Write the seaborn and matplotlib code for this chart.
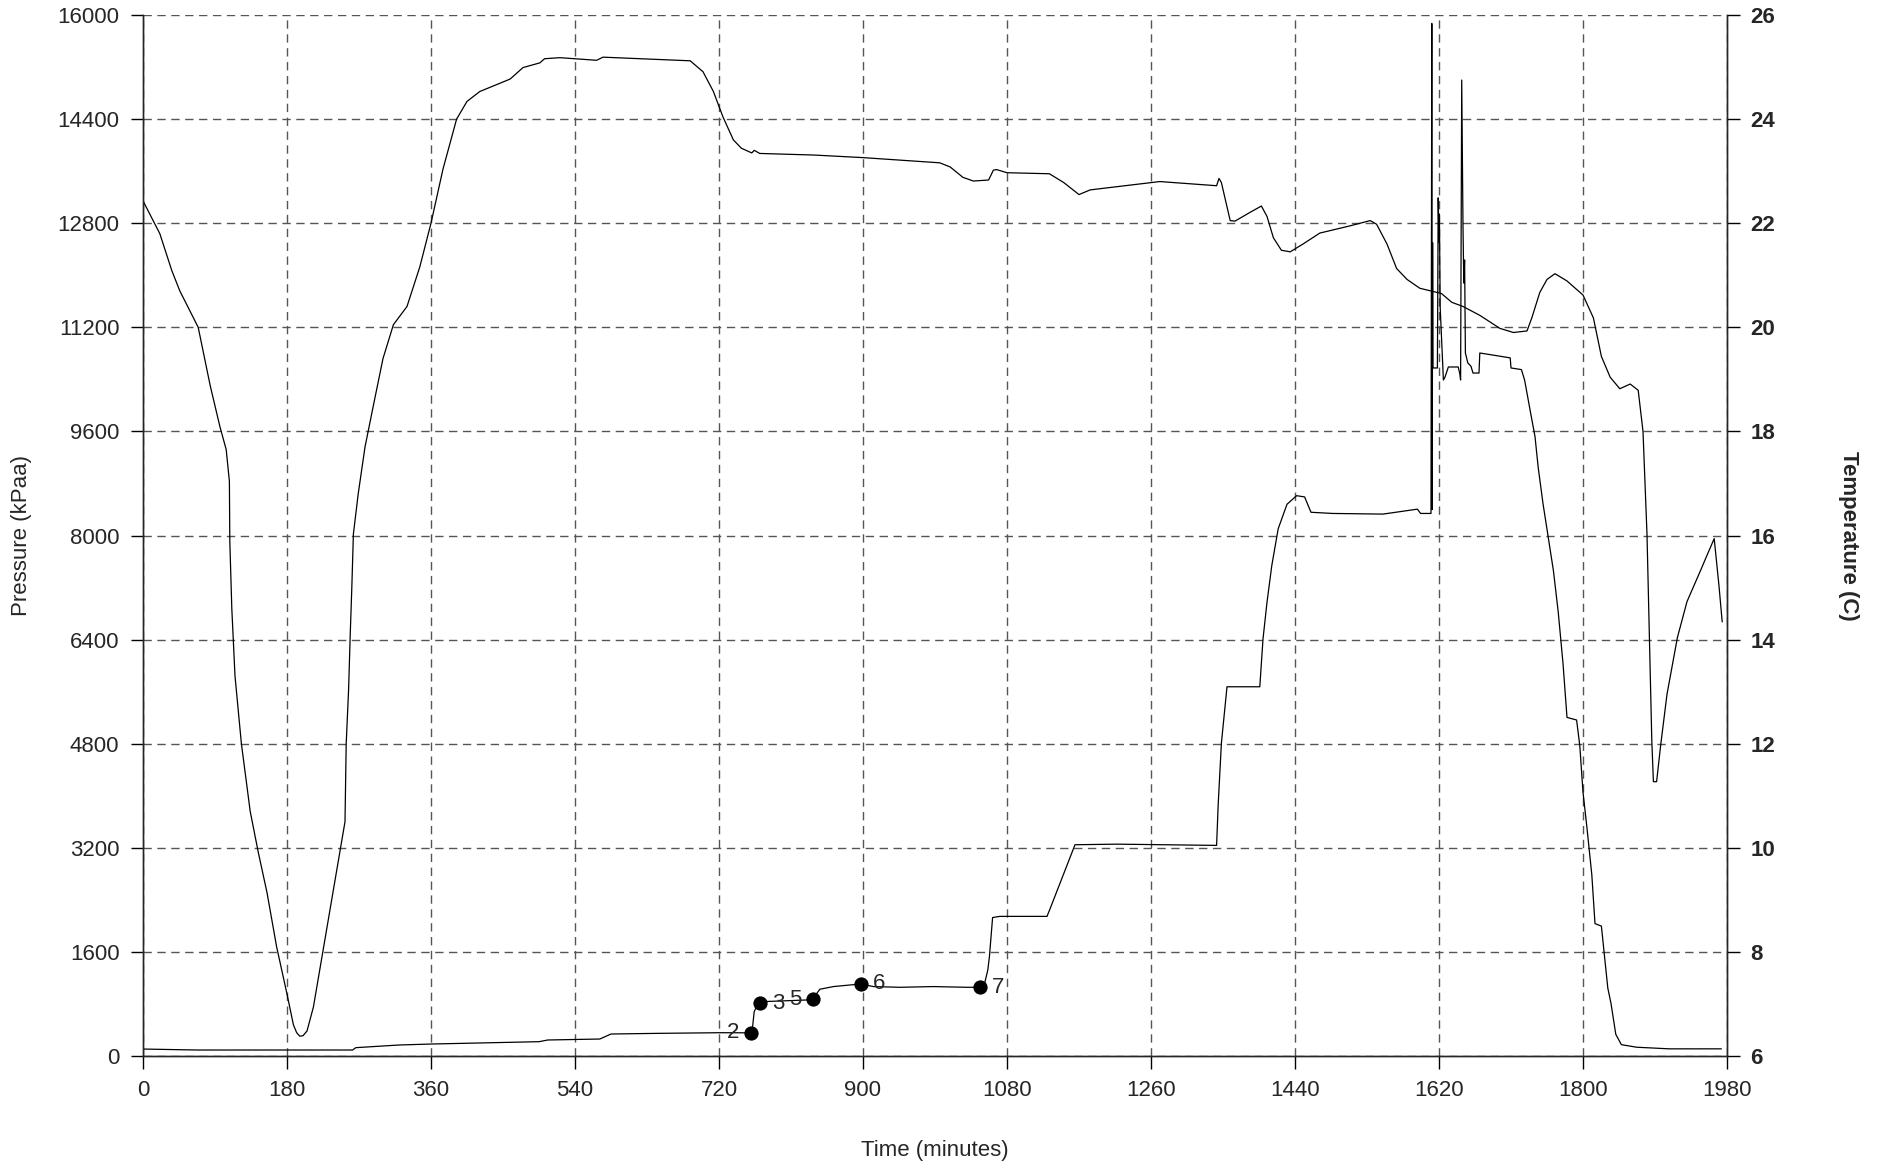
import numpy as np
import pandas as pd
import seaborn as sns
import matplotlib.pyplot as plt

# Pressure trace (kPaa) against time (minutes)
p_time = [0, 68, 262, 266, 320, 360, 495, 506, 571, 585, 643, 722,
          760, 762, 764, 767, 771, 780, 834, 838, 841, 846, 863, 897,
          913, 946, 988, 1030, 1046, 1052, 1056, 1058, 1062, 1071, 1130,
          1134, 1165, 1217, 1342, 1344, 1348, 1355, 1396, 1400, 1405,
          1411, 1419, 1430, 1442, 1452, 1460, 1487, 1550, 1593, 1597,
          1610, 1611, 1611.5, 1612, 1612.5, 1618, 1619, 1620, 1620.5,
          1621.5, 1625.5, 1627.5, 1631.7, 1644, 1646, 1647, 1648.4, 1650,
          1651, 1652, 1653, 1656, 1660, 1662.5, 1670, 1671, 1684, 1709,
          1710, 1723, 1727, 1734, 1740, 1744, 1750, 1757, 1763, 1769,
          1775, 1780, 1792, 1796, 1800, 1805, 1811, 1815, 1823, 1827,
          1831, 1835, 1841, 1848, 1867, 1908, 1973]
pressure = [107, 92, 92, 128, 169, 184, 220, 246, 261, 338, 348, 358,
            356, 451, 682, 759, 813, 838, 863, 874, 940, 1026, 1067, 1107,
            1067, 1056, 1067, 1056, 1056, 1117, 1321, 1524, 2128, 2146, 2146,
            2268, 3247, 3256, 3237, 3868, 4809, 5675, 5675, 6409, 6974,
            7539, 8104, 8480, 8612, 8593, 8357, 8339, 8329, 8405, 8339,
            8339, 15870, 8400, 12500, 10575, 10575, 13190, 12500, 12940,
            11500, 10390, 10435, 10590, 10590, 10487, 10390, 15000, 12740,
            11880, 12235, 10805, 10653, 10600, 10497, 10497, 10805, 10780, 10730,
            10575, 10550, 10390, 9917, 9521, 9045, 8491, 7937, 7461, 6828,
            6035, 5204, 5164, 4768, 4055, 3501, 2788, 2035, 1996, 1520,
            1045, 808, 332, 174, 135, 110, 110]

# Temperature trace (C) against time (minutes)
t_time = [0, 21, 36, 46, 69, 84, 96, 104, 108, 108.5, 111, 115, 123, 134,
          144, 155, 167, 180, 188, 192, 196, 200, 205, 213, 223, 236, 246,
          252.5, 254, 257, 259, 261, 263, 269, 277.5, 288, 300, 313, 330,
          346, 360, 375, 392, 405, 421, 459, 475, 496, 502, 521, 567, 575,
          684, 700, 713, 725, 738, 748, 761, 764, 771, 838, 900, 996, 1009,
          1025, 1038, 1057, 1063, 1067, 1080, 1133, 1151, 1170, 1184,
          1271, 1342, 1345, 1348, 1359, 1365, 1384, 1398, 1405, 1413,
          1423, 1434, 1450, 1471, 1509, 1534, 1542, 1555, 1567, 1580,
          1596, 1623, 1636, 1650, 1671, 1696, 1713, 1730, 1736, 1746,
          1755, 1765, 1780, 1800, 1813, 1823, 1834, 1846, 1859, 1869,
          1875, 1880, 1883, 1886, 1888, 1892, 1897, 1905, 1918, 1930,
          1947, 1955, 1964, 1970, 1974]
temperature = [22.43, 21.8, 21.09, 20.7, 20.0, 18.88, 18.1, 17.65, 17.04,
               15.9, 14.6, 13.3, 12.0, 10.7, 9.92, 9.14, 8.1, 7.19, 6.6,
               6.45, 6.38, 6.39, 6.48, 6.94, 7.84, 9.01, 9.92, 10.5, 12.0,
               13.04, 14.08, 14.99, 16.03, 16.8, 17.7, 18.5, 19.4, 20.05,
               20.4, 21.16, 22.0, 23.04, 24.0, 24.34, 24.53, 24.77, 24.99,
               25.08, 25.16, 25.18, 25.13, 25.19, 25.12, 24.91, 24.53, 24.04,
               23.6, 23.44, 23.35, 23.4, 23.34, 23.31, 23.26, 23.16, 23.08,
               22.88, 22.81, 22.83, 23.02, 23.03, 22.97, 22.95, 22.78, 22.55,
               22.64, 22.8, 22.72, 22.86, 22.78, 22.05, 22.04, 22.21, 22.33,
               22.13, 21.72, 21.48, 21.45, 21.6, 21.81, 21.95, 22.05, 21.98,
               21.6, 21.13, 20.92, 20.75, 20.65, 20.48, 20.4, 20.23, 19.98,
               19.9, 19.93, 20.18, 20.67, 20.92, 21.03, 20.89, 20.62, 20.18,
               19.44, 19.04, 18.82, 18.91, 18.79, 18.0, 16.02, 14.04, 12.06,
               11.27, 11.27, 11.96, 12.95, 14.04, 14.73, 15.33, 15.62,
               15.94, 15.03, 14.34]

# Numbered pressure stages
stage_labels = ["2", "3", "5", "6", "7"]
stage_time = [760, 771, 838, 897, 1046]
stage_pressure = [356, 813, 874, 1107, 1056]
stage_side = [-1, 1, -1, 1, 1]

x_ticks = list(range(0, 1981, 180))
p_ticks = list(range(0, 16001, 1600))
t_ticks = list(range(6, 27, 2))

sns.set_style("ticks")
plt.rcParams['font.family'] = ['Liberation Sans', 'DejaVu Sans']
fs = 16

df_p = pd.DataFrame({"time": p_time, "pressure": pressure})
df_t = pd.DataFrame({"time": t_time, "temperature": temperature})
df_s = pd.DataFrame({"time": stage_time, "pressure": stage_pressure})

fig = plt.figure(figsize=(18.81, 11.70), dpi=100)
ax = fig.add_axes([143 / 1881, 1 - 1056 / 1170, 1584 / 1881, 1041 / 1170])
ax2 = ax.twinx()

sns.lineplot(data=df_p, x="time", y="pressure", ax=ax, color="black",
             lw=0.9, estimator=None, sort=False, zorder=3)
sns.scatterplot(data=df_s, x="time", y="pressure", ax=ax, color="black",
                s=90, edgecolor="black", zorder=4)
for lab, tx, py, side in zip(stage_labels, stage_time, stage_pressure, stage_side):
    ax.annotate(lab, (tx, py), xytext=(13 * side, 0), textcoords="offset points",
                ha="center", va="center", fontsize=fs, zorder=5)

sns.lineplot(data=df_t, x="time", y="temperature", ax=ax2, color="black",
             lw=0.9, estimator=None, sort=False)

ax.set_xlim(0, 1980)
ax.set_ylim(0, 16000)
ax2.set_ylim(6, 26)
ax.set_xticks(x_ticks)
ax.set_yticks(p_ticks)
ax2.set_yticks(t_ticks)

ax.grid(True, linestyle=(0, (6, 4)), color="#555555", lw=1.0)
ax.set_axisbelow(True)

for a in (ax, ax2):
    a.spines["top"].set_visible(False)
    a.spines["left"].set_linewidth(1.0)
    a.spines["bottom"].set_linewidth(1.0)
    a.spines["right"].set_linewidth(1.0)
    a.tick_params(length=9, width=1.0, labelsize=fs, pad=8, color="black")

for lab in ax2.get_yticklabels():
    lab.set_fontweight("bold")

ax.set_xlabel("Time (minutes)", fontsize=fs)
ax.xaxis.set_label_coords(0.5, -0.081)
ax.set_ylabel("Pressure (kPaa)", fontsize=fs)
ax.yaxis.set_label_coords(-0.070, 0.5)
ax2.set_ylabel("Temperature (C)", fontsize=fs, fontweight="bold", rotation=270)
ax2.yaxis.label.set_va("bottom")
ax2.yaxis.set_label_coords(1.070, 0.5)

fig.savefig("out.png", dpi=100)
